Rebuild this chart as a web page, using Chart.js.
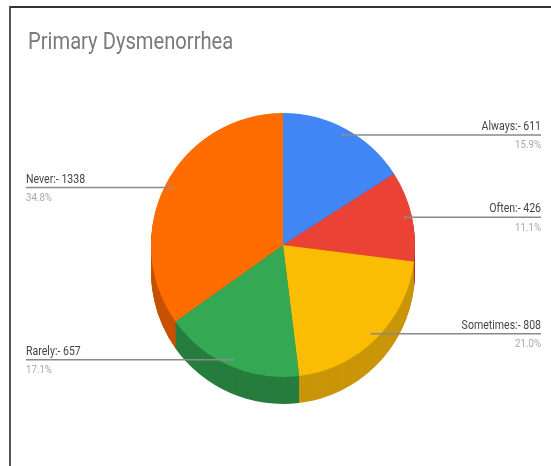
<!DOCTYPE html>
<html>
<head>
<meta charset="utf-8">
<script src="https://cdn.jsdelivr.net/npm/chart.js@4"></script>
<style>
  html, body { margin: 0; padding: 0; background: #fff; }
  #wrap { position: relative; width: 551px; height: 466px; overflow: hidden; }
  #frame { position: absolute; left: 9px; top: 6px; right: 0; bottom: 0;
           border-left: 2px solid #555; border-top: 2px solid #333; pointer-events: none; }
  #title { position: absolute; left: 28px; top: 27px; font-family: Roboto, sans-serif;
           font-size: 24px; color: #7a7a7a; white-space: nowrap;
           transform: scaleX(0.84); transform-origin: left top; }
  canvas { position: absolute; left: 0; top: 0; }
</style>
</head>
<body>
<div id="wrap">
  <canvas id="pie" width="551" height="466"></canvas>
  <div id="title">Primary Dysmenorrhea</div>
  <div id="frame"></div>
</div>
<script>
const categories = ['Always', 'Often', 'Sometimes', 'Rarely', 'Never'];
const counts = [611, 426, 808, 657, 1338];
const percentLabels = ['15.9%', '11.1%', '21.0%', '17.1%', '34.8%'];
const topColors = ['#4285f4', '#ea4335', '#fbbc04', '#34a853', '#ff6d01'];
const sideColors = ['#2f62b8', '#b0322a', '#c99608', '#267d3e', '#c65200'];

// fake 3D: stack the slices a few pixels down in darker colours
const depthPlugin = {
  id: 'depth',
  beforeDatasetsDraw(chart) {
    const ctx = chart.ctx;
    const arcs = chart.getDatasetMeta(0).data;
    const depth = 27;
    ctx.save();
    for (let d = depth; d >= 1; d--) {
      arcs.forEach((arc, i) => {
        ctx.fillStyle = sideColors[i];
        ctx.beginPath();
        ctx.moveTo(arc.x, arc.y + d);
        ctx.arc(arc.x, arc.y + d, arc.outerRadius, arc.startAngle, arc.endAngle);
        ctx.closePath();
        ctx.fill();
      });
    }
    ctx.restore();
  }
};

// leader lines with "name:- value" above and percent below
const calloutPlugin = {
  id: 'callouts',
  afterDatasetsDraw(chart) {
    const ctx = chart.ctx;
    const arcs = chart.getDatasetMeta(0).data;
    const leftX = 26, rightX = 541;
    ctx.save();
    arcs.forEach((arc, i) => {
      const mid = (arc.startAngle + arc.endAngle) / 2;
      const ax = arc.x + Math.cos(mid) * arc.outerRadius * 0.95;
      const ay = arc.y + Math.sin(mid) * arc.outerRadius * 0.95;
      const right = Math.cos(mid) > 0;
      ctx.strokeStyle = '#8a8a8a';
      ctx.lineWidth = 1.5;
      ctx.beginPath();
      ctx.moveTo(ax, ay);
      ctx.lineTo(right ? rightX : leftX, ay);
      ctx.stroke();
      ctx.fillStyle = 'rgba(150,150,150,0.6)';
      ctx.beginPath();
      ctx.arc(ax, ay, 1.5, 0, Math.PI * 2);
      ctx.fill();

      const tx = right ? rightX : leftX;
      ctx.save();
      ctx.translate(tx, ay);
      ctx.scale(0.88, 1);
      ctx.textAlign = right ? 'right' : 'left';
      ctx.font = '12px Roboto, sans-serif';
      ctx.fillStyle = '#444';
      ctx.textBaseline = 'alphabetic';
      ctx.fillText(categories[i] + ':- ' + counts[i], 0, -5);
      ctx.font = '11px Roboto, sans-serif';
      ctx.fillStyle = '#a8a8a8';
      ctx.textBaseline = 'top';
      ctx.fillText(percentLabels[i], 0, 5);
      ctx.restore();
    });
    ctx.restore();
  }
};

new Chart(document.getElementById('pie'), {
  type: 'pie',
  data: {
    labels: categories,
    datasets: [{
      data: counts,
      backgroundColor: topColors,
      borderWidth: 0,
      hoverOffset: 0
    }]
  },
  options: {
    responsive: false,
    animation: false,
    events: [],
    layout: { padding: { left: 151, right: 136, top: 113, bottom: 89 } },
    plugins: {
      legend: { display: false },
      title: { display: false },
      tooltip: { enabled: false }
    }
  },
  plugins: [depthPlugin, calloutPlugin]
});
</script>
</body>
</html>
